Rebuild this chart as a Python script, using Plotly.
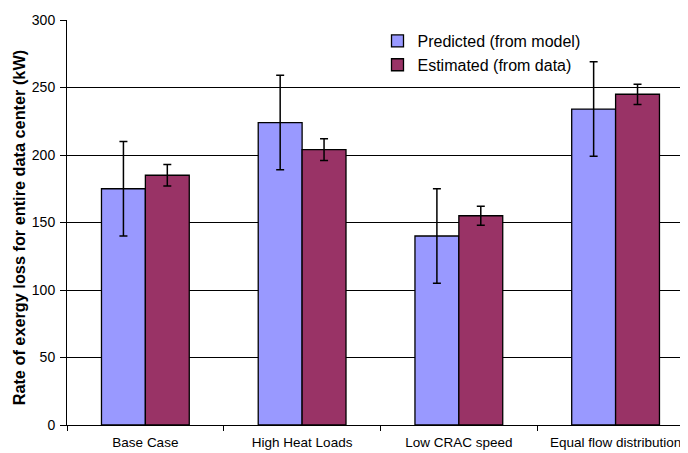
import plotly.graph_objects as go

categories = ["Base Case", "High Heat Loads", "Low CRAC speed", "Equal flow distribution"]
predicted = [175, 224, 140, 234]
predicted_err = [35, 35, 35, 35]
estimated = [185, 204, 155, 245]
estimated_err = [8, 8, 7, 7.5]
y_ticks = [0, 50, 100, 150, 200, 250, 300]
y_title = "<b>Rate of exergy loss for entire data center (kW)</b>"

font_family = "Liberation Sans, Arial, sans-serif"

fig = go.Figure()
fig.add_trace(go.Bar(
    x=categories, y=predicted, name="Predicted (from model)",
    marker=dict(color="#9999FF", line=dict(color="black", width=1.3)),
    error_y=dict(type="data", array=predicted_err, visible=True,
                 color="black", thickness=1.5, width=4),
))
fig.add_trace(go.Bar(
    x=categories, y=estimated, name="Estimated (from data)",
    marker=dict(color="#993366", line=dict(color="black", width=1.3)),
    error_y=dict(type="data", array=estimated_err, visible=True,
                 color="black", thickness=1.5, width=4),
))

fig.add_annotation(
    text=y_title, textangle=-90, showarrow=False,
    xref="paper", yref="paper", x=-59 / 621, y=0.488,
    xanchor="left", yanchor="middle",
    font=dict(size=16.3, family=font_family, color="black"),
)

fig.update_layout(
    width=680, height=445,
    margin=dict(l=59, r=0, t=12, b=28),
    paper_bgcolor="white", plot_bgcolor="white",
    barmode="group", bargap=0.44, bargroupgap=0,
    font=dict(family=font_family, size=14, color="black"),
    showlegend=True,
    legend=dict(x=0.50, y=0.99, xanchor="left", yanchor="top",
                bgcolor="rgba(0,0,0,0)", font=dict(size=16),
                traceorder="normal", itemwidth=30),
    xaxis=dict(
        range=[-0.5, 3.462], showline=True, linecolor="black", linewidth=1,
        ticks="outside", tickson="boundaries", ticklen=5, tickcolor="black",
        showgrid=False, tickfont=dict(size=13.5), ticklabelstandoff=5,
    ),
    yaxis=dict(
        range=[0, 300], tickvals=y_ticks, showline=True, linecolor="black",
        linewidth=1, ticks="outside", ticklen=6, tickcolor="black",
        showgrid=True, gridcolor="black", gridwidth=1, zeroline=False,
        tickfont=dict(size=14), ticklabelstandoff=2,
    ),
)

fig.write_html("out.html")
